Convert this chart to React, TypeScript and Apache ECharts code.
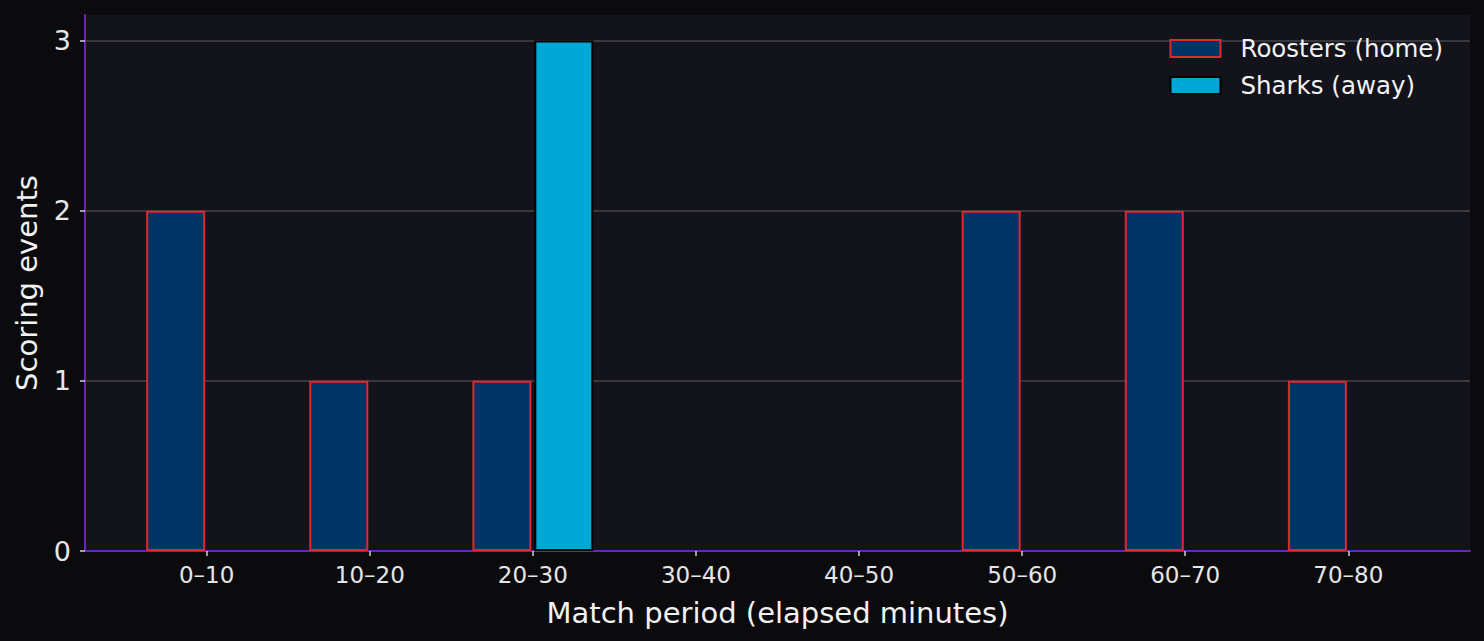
import React, { useEffect, useRef } from 'react';
import * as echarts from 'echarts';

const periods = ['0–10', '10–20', '20–30', '30–40', '40–50', '50–60', '60–70', '70–80'];
const roostersHome = [2, 1, 1, 0, 0, 2, 2, 1];
const sharksAway = [0, 0, 3, 0, 0, 0, 0, 0];
const yTicks = [0, 1, 2, 3];

const FONT = "'DejaVu Sans', sans-serif";

const App = () => {
  const chartRef = useRef(null);

  useEffect(() => {
    if (!chartRef.current) return;
    const chart = echarts.init(chartRef.current, null, { renderer: 'svg' });

    const idx = periods.map((_, i) => i);
    // zero bars are not drawn
    const toData = (vals) => vals.map((v, i) => [i, v === 0 ? '-' : v]);

    const option = {
      animation: false,
      backgroundColor: '#0b0b0e',
      textStyle: { fontFamily: FONT },
      grid: {
        left: 85,
        right: 14,
        top: 15,
        bottom: 90,
        show: true,
        backgroundColor: '#12131b',
        borderWidth: 0,
      },
      legend: {
        right: 36,
        top: 31,
        orient: 'vertical',
        itemWidth: 50,
        itemHeight: 17,
        itemGap: 12,
        textStyle: { color: '#f2f2f2', fontSize: 24.5, fontFamily: FONT, padding: [0, 0, 0, 15] },
        data: [
          { name: 'Roosters (home)', icon: 'rect', itemStyle: { color: '#003366', borderColor: '#e0282e', borderWidth: 2 } },
          { name: 'Sharks (away)', icon: 'rect', itemStyle: { color: '#00a8d6', borderColor: '#000000', borderWidth: 2 } },
        ],
      },
      xAxis: {
        type: 'value',
        min: -0.746,
        max: 7.746,
        name: 'Match period (elapsed minutes)',
        nameLocation: 'middle',
        nameGap: 47,
        nameTextStyle: { color: '#f2f2f2', fontSize: 29, fontFamily: FONT },
        axisLine: { show: true, onZero: false, lineStyle: { color: '#6a24c4', width: 2 } },
        axisTick: { show: true, customValues: idx, length: 5, lineStyle: { color: '#d0d0d0', width: 1.5 } },
        axisLabel: {
          customValues: idx,
          formatter: (v) => periods[Math.round(v)] ?? '',
          color: '#e6e6e6',
          fontSize: 23,
          margin: 12,
          fontFamily: FONT,
        },
        splitLine: { show: false },
      },
      yAxis: {
        type: 'value',
        min: 0,
        max: 3.15,
        interval: 1,
        name: 'Scoring events',
        nameLocation: 'middle',
        nameGap: 44,
        nameTextStyle: { color: '#f2f2f2', fontSize: 29, fontFamily: FONT },
        axisLine: { show: true, onZero: false, lineStyle: { color: '#6a24c4', width: 2 } },
        axisTick: { show: true, customValues: yTicks, length: 5, lineStyle: { color: '#d0d0d0', width: 1.5 } },
        axisLabel: {
          customValues: yTicks,
          color: '#e6e6e6',
          fontSize: 27,
          margin: 14,
          fontFamily: FONT,
        },
        splitLine: { show: true, lineStyle: { color: '#444448', width: 1.5 } },
      },
      series: [
        {
          name: 'Roosters (home)',
          type: 'bar',
          barWidth: 59,
          barGap: '5%',
          data: toData(roostersHome),
          itemStyle: { color: '#003366', borderColor: '#e0282e', borderWidth: 2 },
        },
        {
          name: 'Sharks (away)',
          type: 'bar',
          barWidth: 59,
          barGap: '5%',
          data: toData(sharksAway),
          itemStyle: { color: '#00a8d6', borderColor: '#000000', borderWidth: 2 },
        },
      ],
    };

    chart.setOption(option);
    return () => {
      chart.dispose();
    };
  }, []);

  return <div ref={chartRef} style={{ width: 1484, height: 641, position: 'absolute', left: 0, top: 0 }} />;
};

export default App;
